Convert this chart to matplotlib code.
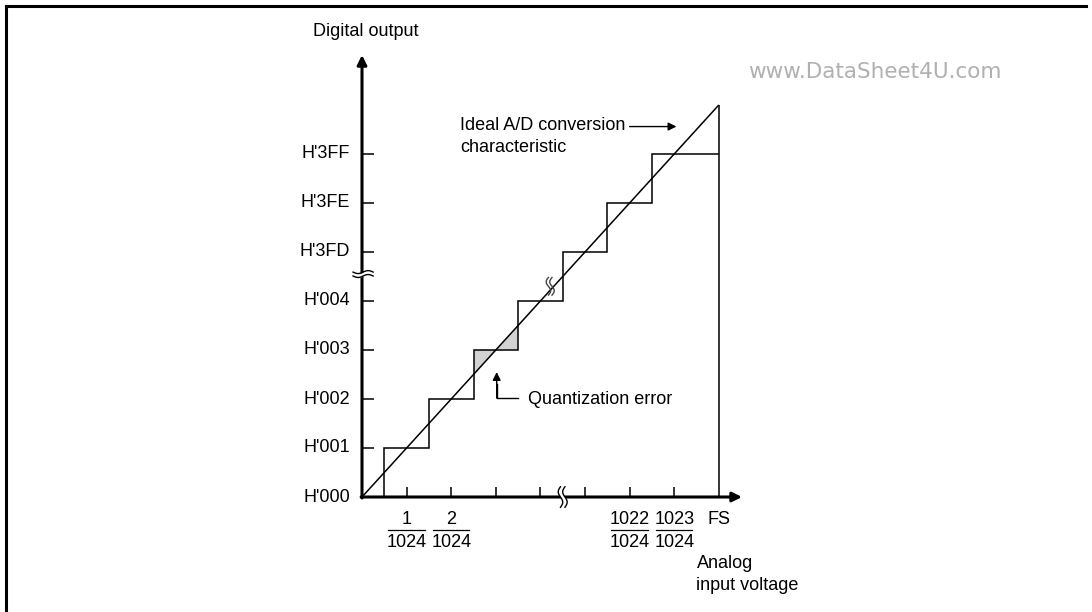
import matplotlib.pyplot as plt
import numpy as np
from matplotlib.lines import Line2D

# Code levels on the vertical axis (one unit per LSB, break between 4 and 5)
y_codes = ["H'000", "H'001", "H'002", "H'003", "H'004", "H'3FD", "H'3FE", "H'3FF"]
y_levels = [0, 1, 2, 3, 4, 5, 6, 7]

# Horizontal tick positions and their fraction labels
x_ticks = [1, 2, 3, 4, 5, 6, 7]
x_frac_pos = [1, 2, 6, 7]
x_frac_num = ["1", "2", "1022", "1023"]
x_frac_den = ["1024", "1024", "1024", "1024"]
fs_pos = 8

# Staircase: code steps up at each half-LSB transition, holds H'3FF to FS
step_x = [0.5, 1.5, 2.5, 3.5, 4.5, 5.5, 6.5]
step_code = [1, 2, 3, 4, 5, 6, 7]

# Ideal characteristic from origin to full scale
ideal_x = [0, 8]
ideal_y = [0, 8]

plt.rcParams['font.family'] = ['Liberation Sans', 'DejaVu Sans']
FS_TXT = 13

fig = plt.figure(figsize=(10.92, 6.12), dpi=100)
ax = fig.add_axes([0, 0, 1, 1])
ax.set_axis_off()

# pixel layout -> data units
px_x, px_y = 44.6, 49.0
x0_px, y0_px = 362, 612 - 497
ax.set_xlim(-x0_px / px_x, (1092 - x0_px) / px_x)
ax.set_ylim(-y0_px / px_y, (612 - y0_px) / px_y)

k = dict(color='black', lw=1.1, solid_capstyle='butt', solid_joinstyle='miter')

# staircase path
sx, sy = [step_x[0]], [0]
for i, (xe, c) in enumerate(zip(step_x, step_code)):
    sx += [xe]
    sy += [c]
    nxt = step_x[i + 1] if i + 1 < len(step_x) else fs_pos
    sx += [nxt]
    sy += [c]
ax.plot([fs_pos, fs_pos], [0, ideal_y[1]], **k)

# quantization error shading around code 3
c = 3
xs = [step_x[c - 1], step_x[c]]
ax.fill([xs[0], xs[0], c], [xs[0], c, c], color='#d2d2d2', lw=0)
ax.fill([c, xs[1], xs[1]], [c, c, xs[1]], color='#d2d2d2', lw=0)
ax.plot(sx, sy, **k)

ax.plot(ideal_x, ideal_y, **k)

# axes with arrow heads
ax.annotate('', xy=(0, 9.02), xytext=(0, -0.02),
            arrowprops=dict(arrowstyle='-|>', lw=2.2, color='black',
                            mutation_scale=14, shrinkA=0, shrinkB=0))
ax.annotate('', xy=(8.52, 0), xytext=(-0.02, 0),
            arrowprops=dict(arrowstyle='-|>', lw=2.2, color='black',
                            mutation_scale=14, shrinkA=0, shrinkB=0))

# ticks
for yl in y_levels[1:]:
    ax.plot([0, 0.27], [yl, yl], **k)
for xt in x_ticks:
    ax.plot([xt, xt], [0, 0.2], **k)

# break marks
t = np.linspace(-1, 1, 60)
# vertical axis break
yb = 4.55
bx = -0.2 + 0.45 * (t + 1) / 2
ax.fill_between(bx, yb - 0.04 + 0.03 * np.sin(np.pi * t),
                yb + 0.04 + 0.03 * np.sin(np.pi * t), color='white', lw=0, zorder=3)
for dy in (-0.04, 0.04):
    ax.plot(bx, yb + dy + 0.03 * np.sin(np.pi * t), color='black', lw=1.0, zorder=4)
# horizontal axis break
xb = 4.5
ax.fill_betweenx(0.2 * t, xb - 0.05 - 0.05 * np.sin(np.pi * t),
                 xb + 0.05 - 0.05 * np.sin(np.pi * t), color='white', lw=0, zorder=3)
for dx in (-0.05, 0.05):
    ax.plot(xb + dx - 0.05 * np.sin(np.pi * t), 0.21 * t, color='black', lw=1.0, zorder=4)
# break marks on the ideal line
for xc in (4.18, 4.26):
    ax.plot(xc - 0.05 * np.sin(np.pi * t), 4.3 + 0.18 * t, color='#444444', lw=1.0, zorder=4)

# vertical axis labels
for yl, code in zip(y_levels, y_codes):
    ax.text(-0.27, yl, code, ha='right', va='center', fontsize=FS_TXT)

# horizontal axis fraction labels
for xp, num, den in zip(x_frac_pos, x_frac_num, x_frac_den):
    ax.text(xp, -0.46, num, ha='center', va='center', fontsize=FS_TXT)
    ax.plot([xp - 0.41, xp + 0.41], [-0.68, -0.68], color='black', lw=0.9)
    ax.text(xp, -0.92, den, ha='center', va='center', fontsize=FS_TXT)
ax.text(fs_pos, -0.45, 'FS', ha='center', va='center', fontsize=FS_TXT)

# axis titles
ax.text(-1.1, 9.49, 'Digital output', ha='left', va='center', fontsize=FS_TXT)
ax.text(7.5, -1.35, 'Analog', ha='left', va='center', fontsize=FS_TXT)
ax.text(7.5, -1.8, 'input voltage', ha='left', va='center', fontsize=FS_TXT)

# annotations
ax.text(2.2, 7.58, 'Ideal A/D conversion', ha='left', va='center', fontsize=FS_TXT)
ax.text(2.2, 7.14, 'characteristic', ha='left', va='center', fontsize=FS_TXT)
ax.annotate('', xy=(7.05, 7.56), xytext=(6.0, 7.56),
            arrowprops=dict(arrowstyle='-|>', lw=1.0, color='black',
                            mutation_scale=12, shrinkA=0, shrinkB=0))
ax.plot([3.5, 3.02, 3.02], [2.02, 2.02, 2.3], color='black', lw=1.0)
ax.annotate('', xy=(3.02, 2.55), xytext=(3.02, 2.02),
            arrowprops=dict(arrowstyle='-|>', lw=1.0, color='black',
                            mutation_scale=12, shrinkA=0, shrinkB=0))
ax.text(3.72, 1.98, 'Quantization error', ha='left', va='center', fontsize=FS_TXT)

ax.text(8.65, 8.67, 'www.DataSheet4U.com', ha='left', va='center',
        fontsize=15.5, color='#b0b0b0', family=['DejaVu Sans'])

# page frame
fig.add_artist(Line2D([6 / 1092, 6 / 1092], [0, 1 - 6 / 612], color='black', lw=2.2,
                      solid_capstyle='projecting'))
fig.add_artist(Line2D([6 / 1092, 1086 / 1092], [1 - 6 / 612, 1 - 6 / 612], color='black',
                      lw=2.2, solid_capstyle='projecting'))

fig.savefig('out.png', dpi=100)
